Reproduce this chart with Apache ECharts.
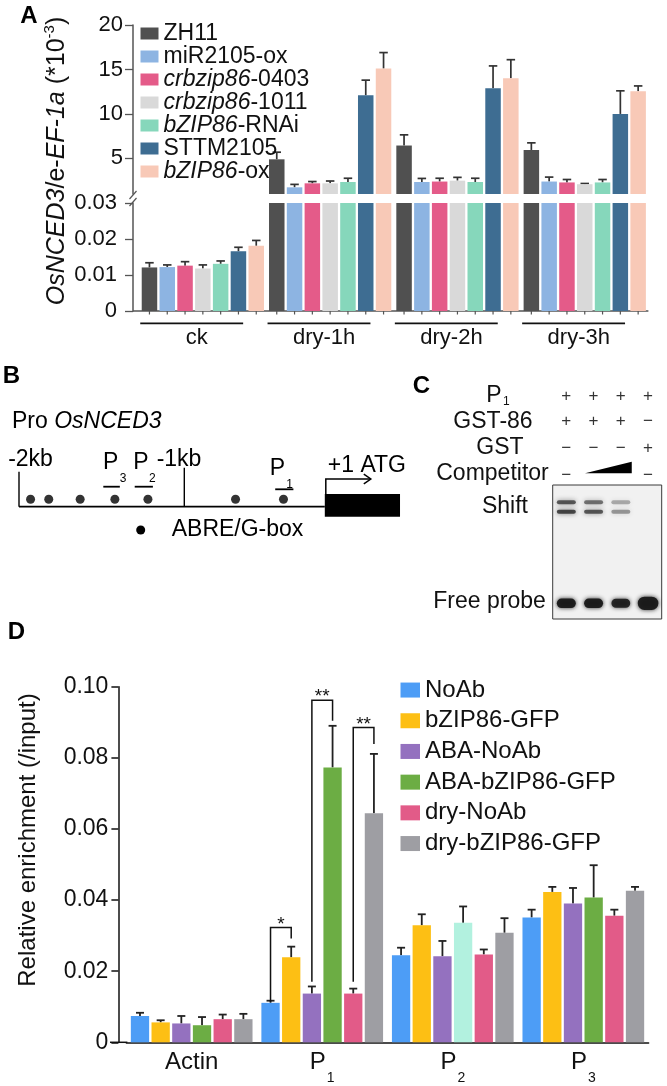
<!DOCTYPE html>
<html><head><meta charset="utf-8">
<script src="https://cdn.jsdelivr.net/npm/echarts@6/dist/echarts.min.js"></script>
<style>html,body{margin:0;padding:0;background:#fff}#c{width:667px;height:1086px}</style>
</head><body><div id="c"></div>
<script>
// ================= DATA =================
// ---- Panel A: OsNCED3 expression ----
const aGroups = ['ck', 'dry-1h', 'dry-2h', 'dry-3h'];
const aGenotypes = ['ZH11', 'miR2105-ox', 'crbzip86-0403', 'crbzip86-1011', 'bZIP86-RNAi', 'STTM2105', 'bZIP86-ox'];
// ck read on the lower axis, dry groups read on the upper (*10^-3) axis
const aZH11      = [0.0121, 4.9, 6.45, 5.95];
const aZH11Err   = [0.0013, 0.8, 1.2, 0.8];
const aMiR       = [0.0122, 1.75, 2.35, 2.4];
const aMiRErr    = [0.0006, 0.33, 0.4, 0.5];
const aCr0403    = [0.0126, 2.2, 2.4, 2.3];
const aCr0403Err = [0.0011, 0.2, 0.37, 0.33];
const aCr1011    = [0.0118, 2.2, 2.5, 2.1];
const aCr1011Err = [0.0010, 0.26, 0.37, 0.08];
const aRNAi      = [0.0131, 2.35, 2.35, 2.3];
const aRNAiErr   = [0.0008, 0.42, 0.42, 0.33];
const aSTTM      = [0.0166, 12.1, 12.9, 10.0];
const aSTTMErr   = [0.0011, 1.7, 2.5, 2.6];
const aOx        = [0.0181, 15.1, 14.0, 12.55];
const aOxErr     = [0.0015, 1.8, 2.1, 0.6];
const aUpperTicks = [5, 10, 15, 20];
const aLowerTicks = [0, 0.01, 0.02, 0.03];

// ---- Panel B: promoter schematic (kb) ----
const bMarks = ['-2kb', '-1kb'];
const bMarkKb = [-2, -1];
const bAbreSites = [-1.93, -1.82, -1.63, -1.42, -1.22, -0.69, -0.40];
const bProbeSub = ['3', '2', '1'];
const bProbeStart = [-1.49, -1.30, -0.45];
const bProbeEnd = [-1.39, -1.19, -0.34];
const bGene = [-0.15, 0.305];

// ---- Panel C: EMSA ----
const cLanes = ['1', '2', '3', '4'];
const cP1 = ['+', '+', '+', '+'];
const cGST86 = ['+', '+', '+', '−'];
const cGST = ['−', '−', '−', '+'];
const cCompetitor = [0, 1, 2, 0];
const cShiftUpper = [0.85, 0.7, 0.4, 0];
const cShiftLower = [0.95, 0.85, 0.5, 0];
const cFreeProbe = [1.0, 1.0, 0.95, 1.4];
const cPosShiftUpper = 17.3, cPosShiftLower = 26.7, cPosFree = 118.3;

// ---- Panel D: ChIP-qPCR ----
const dCats = ['Actin', 'P1', 'P2', 'P3'];
const dNames = ['NoAb', 'bZIP86-GFP', 'ABA-NoAb', 'ABA-bZIP86-GFP', 'dry-NoAb', 'dry-bZIP86-GFP'];
const dNoAb        = [0.0074, 0.0111, 0.0245, 0.0351];
const dNoAbErr     = [0.0009, 0.0006, 0.0021, 0.0022];
const dGFP         = [0.0056, 0.0239, 0.0329, 0.0423];
const dGFPErr      = [0.0006, 0.0030, 0.0031, 0.0014];
const dABANoAb     = [0.0053, 0.0137, 0.0242, 0.0390];
const dABANoAbErr  = [0.0021, 0.0020, 0.0043, 0.0044];
const dABAGFP      = [0.0048, 0.0773, 0.0336, 0.0407];
const dABAGFPErr   = [0.0023, 0.0117, 0.0046, 0.0091];
const dDryNoAb     = [0.0065, 0.0137, 0.0247, 0.0356];
const dDryNoAbErr  = [0.0013, 0.0014, 0.0014, 0.0017];
const dDryGFP      = [0.0065, 0.0644, 0.0308, 0.0426];
const dDryGFPErr   = [0.0015, 0.0167, 0.0041, 0.0011];
// [category, left series, right series, left foot, top, right foot]
const dBrackets = [[1, 0, 1, 0.0114, 0.0323, 0.0292], [1, 2, 3, 0.0170, 0.0962, 0.0904], [1, 4, 5, 0.0170, 0.0885, 0.0839]];
const dBracketMarks = ['*', '**', '**'];

// ================= STYLE / LAYOUT =================
const FONT = '"Liberation Sans", Arial, Helvetica, sans-serif';
const INK = '#111';
const aColors = ['#505050', '#8db4e2', '#e45b89', '#d9d9d9', '#86d7bb', '#3e6d92', '#f8c9b7'];
const dColors = ['#4d9df6', '#fdbf14', '#9471bf', '#6cad44', '#e25b88', '#9e9ea3'];
const dOverride = {series: 3, cat: 2, color: '#b2f1df'};
const A_BAR_W = 15.5, A_GAP = 2.3, A_PITCH = A_BAR_W + A_GAP, A_AXIS_X = 133;
const D_BAR_W = 18.3, D_GAP = 2.38, D_PITCH = D_BAR_W + D_GAP, D_AXIS_X0 = 110;

const aValues = [aZH11, aMiR, aCr0403, aCr1011, aRNAi, aSTTM, aOx];
const aErrors = [aZH11Err, aMiRErr, aCr0403Err, aCr1011Err, aRNAiErr, aSTTMErr, aOxErr];
const dValues = [dNoAb, dGFP, dABANoAb, dABAGFP, dDryNoAb, dDryGFP];
const dErrors = [dNoAbErr, dGFPErr, dABANoAbErr, dABAGFPErr, dDryNoAbErr, dDryGFPErr];

function txt(text, x, y, size, opt) {
  return Object.assign({text, x, y, fontSize: size, fontFamily: FONT, fill: INK, align: 'center', verticalAlign: 'middle'}, opt || {});
}

function errRender(pitch, n, capW, color, lw) {
  return function (params, api) {
    const cat = api.value(0), v = api.value(1), e = api.value(2), s = api.value(3);
    const b = api.coord([cat, v]);
    const t = api.coord([cat, v + e]);
    const x = b[0] + (s - (n - 1) / 2) * pitch;
    return {type: 'group', children: [
      {type: 'line', shape: {x1: x, y1: b[1], x2: x, y2: t[1]}, style: {stroke: color, lineWidth: lw}},
      {type: 'line', shape: {x1: x - capW / 2, y1: t[1], x2: x + capW / 2, y2: t[1]}, style: {stroke: color, lineWidth: lw}}
    ]};
  };
}
function errData(values, errors) {
  const out = [];
  values.forEach((vals, s) => vals.forEach((v, c) => out.push([c, v, errors[s][c], s])));
  return out;
}

function renderADecor(params, api) {
  const cs = params.coordSys;
  const i = api.value(0);
  const c = api.coord([i, 0]);
  const yb = cs.y + cs.height;
  const ch = [];
  for (let s = 0; s < 7; s++) {
    const x = c[0] + (s - 3) * A_PITCH;
    ch.push({type: 'line', shape: {x1: x, y1: yb, x2: x, y2: yb + 3.5}, style: {stroke: '#555', lineWidth: 1.2}});
  }
  ch.push({type: 'line', shape: {x1: c[0] - 62.6, y1: yb + 12.3, x2: c[0] + 40.3, y2: yb + 12.3}, style: {stroke: INK, lineWidth: 1.8}});
  ch.push({type: 'text', style: txt(aGroups[i], c[0] - 6, yb + 27, 22)});
  if (params.dataIndex === 0) {
    ch.push({type: 'line', shape: {x1: A_AXIS_X, y1: yb, x2: cs.x + cs.width, y2: yb}, style: {stroke: '#555', lineWidth: 1.5}});
    ch.push({type: 'line', shape: {x1: A_AXIS_X - 3.5, y1: cs.y - 4, x2: A_AXIS_X + 3.5, y2: cs.y - 12}, style: {stroke: '#555', lineWidth: 1.2}});
    ch.push({type: 'line', shape: {x1: A_AXIS_X - 3.5, y1: cs.y + 3, x2: A_AXIS_X + 3.5, y2: cs.y - 5}, style: {stroke: '#555', lineWidth: 1.2}});
  }
  return {type: 'group', children: ch};
}

function renderB(params, api) {
  const cs = params.coordSys;
  const X = v => api.coord([v, 0])[0];
  const yb = cs.y + cs.height;
  const ch = [];
  ch.push({type: 'text', style: txt('Pro {i|OsNCED3}', cs.x - 7, yb - 85.2, 23, {align: 'left', fill: '#000',
    rich: {i: {fontStyle: 'italic', fontSize: 23, fontFamily: FONT, fill: '#000'}}})});
  ch.push({type: 'line', shape: {x1: X(bMarkKb[0]), y1: yb, x2: X(bGene[0]), y2: yb}, style: {stroke: '#000', lineWidth: 1.8}});
  const markH = [35, 39], markDx = [11.5, -5.3];
  bMarkKb.forEach((k, i) => {
    const x = X(k);
    ch.push({type: 'line', shape: {x1: x, y1: yb - markH[i], x2: x, y2: yb}, style: {stroke: '#000', lineWidth: 1.4}});
    ch.push({type: 'text', style: txt(bMarks[i], x + markDx[i], yb - 47.5, 23, {fill: '#000'})});
  });
  const barDy = [0, 0, 2.6], textDy = [0, 0, 6.3], pDx = [-1, -3, -7], subDx = [8.3, 5.3, 2];
  bProbeStart.forEach((s, i) => {
    const x1 = X(s), x2 = X(bProbeEnd[i]), xc = (x1 + x2) / 2;
    ch.push({type: 'line', shape: {x1, y1: yb - 20 + barDy[i], x2, y2: yb - 20 + barDy[i]}, style: {stroke: '#000', lineWidth: 1.8}});
    ch.push({type: 'text', style: txt('P', xc + pDx[i], yb - 44.2 + textDy[i], 23, {fill: '#000'})});
    ch.push({type: 'text', style: txt(bProbeSub[i], xc + subDx[i], yb - 28.4 + textDy[i], 12, {align: 'left', fill: '#000'})});
  });
  const g0 = X(bGene[0]), g1 = X(bGene[1]);
  ch.push({type: 'rect', shape: {x: g0, y: yb - 12.7, width: g1 - g0, height: 22.7}, style: {fill: '#000'}});
  ch.push({type: 'polyline', shape: {points: [[g0 + 1, yb - 12.7], [g0 + 1, yb - 27.7], [g0 + 46, yb - 27.7]]}, style: {stroke: '#000', lineWidth: 1.5, fill: null}});
  ch.push({type: 'polyline', shape: {points: [[g0 + 39, yb - 32.5], [g0 + 46, yb - 27.7], [g0 + 39, yb - 22.9]]}, style: {stroke: '#000', lineWidth: 1.5, fill: null}});
  ch.push({type: 'text', style: txt('+1 ATG', g0 + 3, yb - 41.2, 23, {align: 'left', fill: '#000'})});
  ch.push({type: 'circle', shape: {cx: cs.x + 121.7, cy: yb + 23.3, r: 4.5}, style: {fill: '#000'}});
  ch.push({type: 'text', style: txt('ABRE/G-box', cs.x + 152.7, yb + 23.3, 23, {align: 'left', fill: '#000'})});
  return {type: 'group', children: ch};
}

function renderGelBand(params, api) {
  const c = api.coord([api.value(0), api.value(1)]);
  const I = api.value(2), kind = api.value(3);
  const w = kind === 1 ? 19 + (I - 1) * 4 : 19;
  const h = kind === 1 ? 9.5 * I : 4;
  const a = Math.min(1, I) * (kind === 1 ? 0.95 : 0.78);
  const col = 'rgba(25,25,25,' + a.toFixed(2) + ')';
  return {type: 'rect', shape: {x: c[0] - w / 2, y: c[1] - h / 2, width: w, height: h, r: h / 2},
    style: {fill: col, shadowBlur: kind === 1 ? 4 : 5, shadowColor: col}};
}

function renderGelTable(params, api) {
  const cs = params.coordSys;
  const lane = api.value(0);
  const x = api.coord([lane, 0])[0];
  const rowY = [-88.3, -63.3, -36.7, -10].map(d => cs.y + d);
  const ch = [];
  [cP1, cGST86, cGST].forEach((row, r) => ch.push({type: 'text', style: txt(row[lane], x, rowY[r], 17, {fill: '#333'})}));
  if (cCompetitor[lane] === 0) {
    ch.push({type: 'text', style: txt('−', x, rowY[3], 17, {fill: '#333'})});
  } else if (lane === 0 || cCompetitor[lane - 1] === 0) {
    let last = lane;
    while (last + 1 < cCompetitor.length && cCompetitor[last + 1] > 0) last++;
    const x0 = x - 8.6, x1 = api.coord([last, 0])[0] + 10.9, yb = rowY[3] - 1.7;
    ch.push({type: 'polygon', shape: {points: [[x0, yb], [x1, yb - 11.6], [x1, yb]]}, style: {fill: '#000'}});
  }
  return {type: 'group', children: ch};
}

function renderBrackets(params, api) {
  const cs = params.coordSys;
  const cat = api.value(0), ls = api.value(1), rs = api.value(2);
  const cx = api.coord([cat, 0])[0];
  const xl = cx + (ls - 2.5) * D_PITCH, xr = cx + (rs - 2.5) * D_PITCH;
  const yl = api.coord([cat, api.value(3)])[1], yt = api.coord([cat, api.value(4)])[1], yr = api.coord([cat, api.value(5)])[1];
  const ch = [
    {type: 'polyline', shape: {points: [[xl, yl], [xl, yt], [xr, yt], [xr, yr]]}, style: {stroke: INK, lineWidth: 1.5, fill: null}},
    {type: 'text', style: txt(dBracketMarks[params.dataIndex], (xl + xr) / 2, yt - 3, 19)}
  ];
  if (params.dataIndex === 0) {
    const yb = cs.y + cs.height;
    ch.push({type: 'line', shape: {x1: D_AXIS_X0, y1: yb, x2: cs.x + 1, y2: yb}, style: {stroke: INK, lineWidth: 1.5}});
  }
  return {type: 'group', children: ch};
}

// ================= SERIES =================
const series = [];
aGenotypes.forEach((name, s) => {
  [0, 1].forEach(g => series.push({
    type: 'bar', name, xAxisIndex: g, yAxisIndex: g, data: aValues[s], barWidth: A_BAR_W,
    barGap: (A_GAP / A_BAR_W * 100).toFixed(1) + '%', itemStyle: {color: aColors[s]}, clip: true, silent: true
  }));
});
[0, 1].forEach(g => series.push({
  type: 'custom', name: 'errA' + g, xAxisIndex: g, yAxisIndex: g, clip: true, silent: true,
  renderItem: errRender(A_PITCH, 7, 8.5, '#333', 1.7), data: errData(aValues, aErrors), encode: {x: 0, y: 1}
}));
series.push({type: 'custom', name: 'decorA', xAxisIndex: 1, yAxisIndex: 1, clip: false, silent: true,
  renderItem: renderADecor, data: aGroups.map((g, i) => [i, 0]), encode: {x: 0, y: 1}});

series.push({type: 'scatter', name: 'ABRE', xAxisIndex: 2, yAxisIndex: 2, data: bAbreSites.map(k => [k, 0]),
  symbol: 'circle', symbolSize: 9, symbolOffset: [0, -7.4], itemStyle: {color: '#000'}, clip: false, silent: true, z: 5});
series.push({type: 'custom', name: 'promoter', xAxisIndex: 2, yAxisIndex: 2, clip: false, silent: true,
  renderItem: renderB, data: [[0, 0]], encode: {x: 0, y: 1}});

const gelData = [];
cLanes.forEach((l, i) => {
  if (cShiftUpper[i] > 0) gelData.push([i, cPosShiftUpper, cShiftUpper[i], 0]);
  if (cShiftLower[i] > 0) gelData.push([i, cPosShiftLower, cShiftLower[i], 0]);
  gelData.push([i, cPosFree, cFreeProbe[i], 1]);
});
series.push({type: 'custom', name: 'gel', xAxisIndex: 3, yAxisIndex: 3, clip: true, silent: true,
  renderItem: renderGelBand, data: gelData, encode: {x: 0, y: 1}});
series.push({type: 'custom', name: 'gelTable', xAxisIndex: 3, yAxisIndex: 3, clip: false, silent: true,
  renderItem: renderGelTable, data: cLanes.map((l, i) => [i, 0]), encode: {x: 0, y: 1}});

dNames.forEach((name, s) => series.push({
  type: 'bar', name, xAxisIndex: 4, yAxisIndex: 4, barWidth: D_BAR_W, barGap: (D_GAP / D_BAR_W * 100).toFixed(1) + '%',
  itemStyle: {color: dColors[s]}, silent: true,
  data: dValues[s].map((v, c) => (s === dOverride.series && c === dOverride.cat) ? {value: v, itemStyle: {color: dOverride.color}} : v)
}));
series.push({type: 'custom', name: 'errD', xAxisIndex: 4, yAxisIndex: 4, clip: false, silent: true,
  renderItem: errRender(D_PITCH, 6, 8, '#222', 1.8), data: errData(dValues, dErrors), encode: {x: 0, y: 1}});
series.push({type: 'custom', name: 'brackets', xAxisIndex: 4, yAxisIndex: 4, clip: false, silent: true,
  renderItem: renderBrackets, data: dBrackets, encode: {x: 0, y: 4}});

const axisGray = {lineStyle: {color: '#555', width: 1.5}};
const option = {
  animation: false,
  backgroundColor: '#fff',
  textStyle: {fontFamily: FONT},
  grid: [
    {left: 139.2, right: 18.6, top: 25, height: 169},
    {left: 139.2, right: 18.6, top: 203, height: 108},
    {left: 19, top: 460, width: 413.25, height: 46.7},
    {left: 552.7, top: 485, width: 109, height: 134, show: true, backgroundColor: '#f1f1f1', borderColor: '#3a3a3a', borderWidth: 1},
    {left: 126.4, right: 18.4, top: 686.7, height: 355.6}
  ],
  xAxis: [
    {gridIndex: 0, type: 'category', data: aGroups, show: false},
    {gridIndex: 1, type: 'category', data: aGroups, show: false},
    {gridIndex: 2, type: 'value', min: -2, max: 0.5, show: false},
    {gridIndex: 3, type: 'category', data: cLanes, show: false},
    {gridIndex: 4, type: 'category', data: dCats,
      axisLine: {lineStyle: {color: INK, width: 1.5}},
      axisTick: {alignWithLabel: true, length: 9, lineStyle: {color: INK, width: 1.5}},
      axisLabel: {margin: -4, color: INK, fontFamily: FONT,
        formatter: v => v.charAt(0) === 'P' ? '{p|P}{s|' + v.slice(1) + '}' : '{a|' + v + '}',
        rich: {
          a: {fontSize: 24, lineHeight: 48, fontFamily: FONT, color: INK},
          p: {fontSize: 24, lineHeight: 48, fontFamily: FONT, color: INK},
          s: {fontSize: 14, lineHeight: 16, padding: [31, 0, 0, 1], fontFamily: FONT, color: INK}
        }}}
  ],
  yAxis: [
    {gridIndex: 0, type: 'value', min: 1, max: 20, offset: 6.2, splitLine: {show: false},
      axisLine: Object.assign({show: true}, axisGray),
      axisTick: {show: true, length: 8, customValues: aUpperTicks, lineStyle: {color: '#555', width: 1.3}},
      axisLabel: {customValues: aUpperTicks, margin: 10, fontSize: 22, color: INK, fontFamily: FONT}},
    {gridIndex: 1, type: 'value', min: 0, max: 0.03, interval: 0.01, offset: 6.2, splitLine: {show: false},
      axisLine: Object.assign({show: true}, axisGray),
      axisTick: {show: true, length: 8, customValues: aLowerTicks, lineStyle: {color: '#555', width: 1.3}},
      axisLabel: {customValues: aLowerTicks, margin: 16, fontSize: 22, color: INK, fontFamily: FONT,
        formatter: v => v === 0 ? '0' : v.toFixed(2)}},
    {gridIndex: 2, type: 'value', min: 0, max: 1, show: false},
    {gridIndex: 3, type: 'value', min: 0, max: 134, inverse: true, show: false},
    {gridIndex: 4, type: 'value', min: 0, max: 0.1, interval: 0.02, offset: 8, splitLine: {show: false},
      axisLine: {show: true, lineStyle: {color: INK, width: 1.5}},
      axisTick: {show: true, length: 7, lineStyle: {color: INK, width: 1.5}},
      axisLabel: {margin: 10, fontSize: 23, color: INK, fontFamily: FONT,
        formatter: v => v === 0 ? '0' : v.toFixed(2)}}
  ],
  legend: [
    {data: aGenotypes, orient: 'vertical', left: 135.5, top: 17, itemWidth: 18, itemHeight: 12, itemGap: 0,
      icon: 'rect', selectedMode: false,
      formatter: n => n.replace(/^(crbzip86|bZIP86)/, '{i|$1}'),
      textStyle: {fontSize: 23, lineHeight: 21.5, color: INK, fontFamily: FONT,
        rich: {i: {fontStyle: 'italic', fontSize: 23, lineHeight: 21.5, fontFamily: FONT, color: INK}}}},
    {data: dNames, orient: 'vertical', left: 395.5, top: 669.7, itemWidth: 19.5, itemHeight: 15, itemGap: 0,
      icon: 'rect', selectedMode: false,
      textStyle: {fontSize: 24, lineHeight: 30.7, color: INK, fontFamily: FONT}}
  ],
  graphic: [
    {type: 'text', x: 29, y: 16, style: txt('A', 0, 0, 24, {fontWeight: 'bold', fill: '#000'})},
    {type: 'text', x: 11.5, y: 376, style: txt('B', 0, 0, 24, {fontWeight: 'bold', fill: '#000'})},
    {type: 'text', x: 421.5, y: 386.5, style: txt('C', 0, 0, 24, {fontWeight: 'bold', fill: '#000'})},
    {type: 'text', x: 16.5, y: 632, style: txt('D', 0, 0, 24, {fontWeight: 'bold', fill: '#000'})},
    {type: 'text', x: 57, y: 161, rotation: Math.PI / 2,
      style: txt('{i|OsNCED3}/e-{i|EF-1a} (*10{sup|-3})', 0, 0, 25, {
        rich: {i: {fontStyle: 'italic', fontSize: 25, fontFamily: FONT, fill: INK},
               sup: {fontSize: 15, padding: [0, 0, 14, 0], fontFamily: FONT, fill: INK}}})},
    {type: 'text', x: 28.3, y: 840, rotation: Math.PI / 2, style: txt('Relative enrichment (/input)', 0, 0, 24)},
    {type: 'text', x: 494, y: 395.5, style: txt('P', 0, 0, 23)},
    {type: 'text', x: 503, y: 402, style: txt('1', 0, 0, 12, {align: 'left'})},
    {type: 'text', x: 493, y: 421.5, style: txt('GST-86', 0, 0, 23)},
    {type: 'text', x: 500, y: 447.5, style: txt('GST', 0, 0, 23)},
    {type: 'text', x: 492.5, y: 474, style: txt('Competitor', 0, 0, 23)},
    {type: 'text', x: 505, y: 507, style: txt('Shift', 0, 0, 23)},
    {type: 'text', x: 489.5, y: 602, style: txt('Free probe', 0, 0, 23)}
  ],
  series
};
const chart = echarts.init(document.getElementById('c'), null, {renderer: 'canvas', width: 667, height: 1086});
chart.setOption(option);
</script>
</body></html>
